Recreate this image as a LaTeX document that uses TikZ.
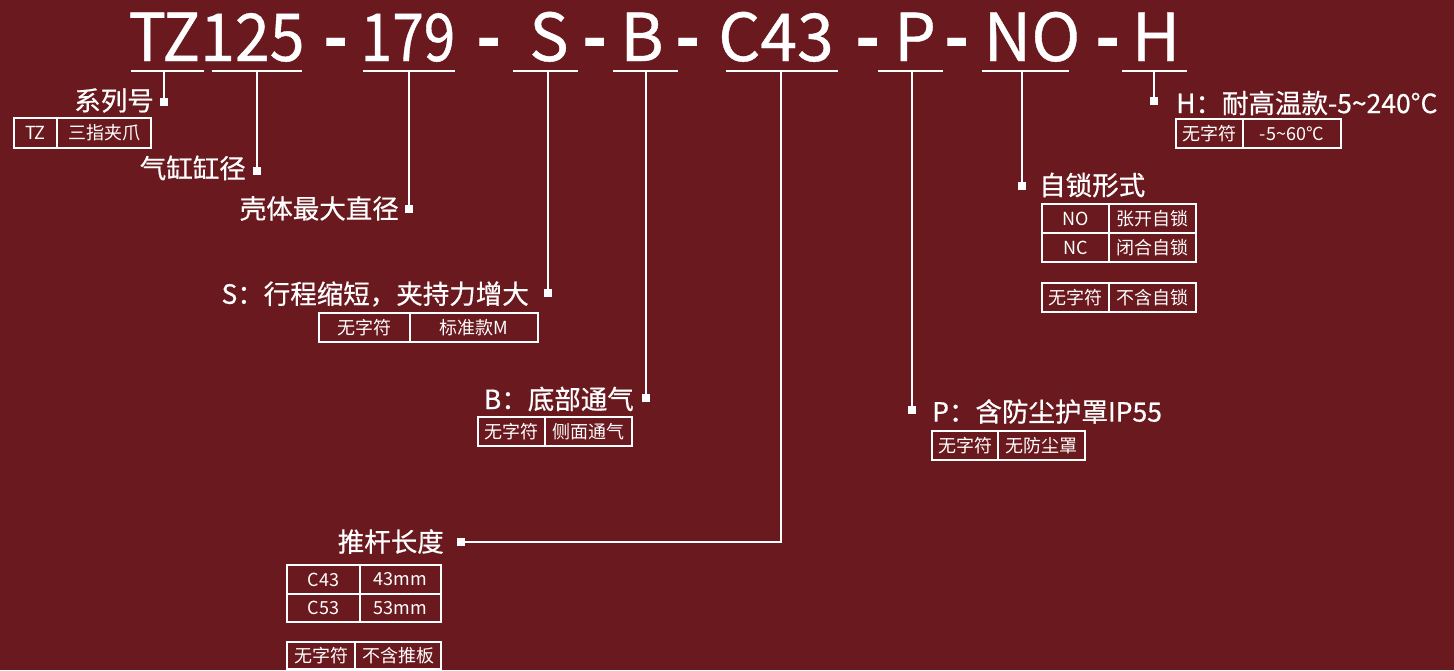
\documentclass[tikz,border=0pt]{standalone}
\usepackage{fontspec}
\setmainfont{Noto Sans CJK SC}
\newfontfamily\medf{Noto Sans CJK SC}[FakeBold=0.6]
\definecolor{bg}{RGB}{106,26,31}
\begin{document}
\begin{tikzpicture}[x=1pt,y=-1pt,
  code/.style={text=white,inner sep=0pt,anchor=base,font=\fontsize{66}{66}\medf},
  dashc/.style={text=white,inner sep=0pt,anchor=base,font=\fontsize{66}{66}\selectfont\bfseries},
  lab/.style={text=white,inner sep=0pt,font=\fontsize{26.5}{26.5}\medf},
  cell/.style={draw=white,line width=1.5pt,inner sep=0pt,text=white,font=\fontsize{18}{18}\selectfont},
  mk/.style={fill=white,minimum size=8pt,inner sep=0pt},
  conn/.style={draw=white,line width=2pt},
  uline/.style={draw=white,line width=2pt}]
\fill[bg] (0,0) rectangle (1454,670);
\useasboundingbox (0,0) rectangle (1454,670);

% code line
\node[code] (cTZ) at (216.5,61) {\scalebox{0.95}[1]{TZ125}};
\node[dashc] (d1) at (336,61) {-};
\node[code] (c179) at (408,61) {\scalebox{0.86}[1]{179}};
\node[dashc] (d2) at (489,61) {-};
\node[code] (cS) at (549,61) {S};
\node[dashc] (d3) at (595,61) {-};
\node[code] (cB) at (642,61) {B};
\node[dashc] (d4) at (688,61) {-};
\node[code] (cC) at (776,61) {C43};
\node[dashc] (d5) at (868,61) {-};
\node[code] (cP) at (915,61) {P};
\node[dashc] (d6) at (957,61) {-};
\node[code] (cNO) at (1032,61) {NO};
\node[dashc] (d7) at (1108,61) {-};
\node[code] (cH) at (1156,61) {H};

% underlines
\draw[uline] (131,71) -- (204,71);
\draw[uline] (212,71) -- (302,71);
\draw[uline] (363,71) -- (455,71);
\draw[uline] (513,71) -- (578,71);
\draw[uline] (613,71) -- (678,71);
\draw[uline] (726,71) -- (838,71);
\draw[uline] (878,71) -- (943,71);
\draw[uline] (982,71) -- (1069,71);
\draw[uline] (1122,71) -- (1187,71);

% connector start points
\coordinate (u1) at (164,71);
\coordinate (u2) at (257,71);
\coordinate (u3) at (409,71);
\coordinate (u4) at (548,71);
\coordinate (u5) at (646,71);
\coordinate (u6) at (781,71);
\coordinate (u7) at (912,71);
\coordinate (u8) at (1022,71);
\coordinate (u9) at (1154,71);

% markers
\node[mk] (m1) at (164,102) {};
\node[mk] (m2) at (257,171) {};
\node[mk] (m3) at (409,209) {};
\node[mk] (m4) at (548,293) {};
\node[mk] (m5) at (646,398) {};
\node[mk] (m6) at (461,542) {};
\node[mk] (m7) at (912,410) {};
\node[mk] (m8) at (1022,186) {};
\node[mk] (m9) at (1154,101) {};

\draw[conn] (u1) -- (m1.center);
\draw[conn] (u2) -- (m2.center);
\draw[conn] (u3) -- (m3.center);
\draw[conn] (u4) -- (m4.center);
\draw[conn] (u5) -- (m5.center);
\draw[conn] (u6) |- (m6.center);
\draw[conn] (u7) -- (m7.center);
\draw[conn] (u8) -- (m8.center);
\draw[conn] (u9) -- (m9.center);

% labels
\node[lab,anchor=east] (l1) at (154,100.5) {系列号};
\node[lab,anchor=east] (l2) at (246,168) {气缸缸径};
\node[lab,anchor=east] (l3) at (399,208.5) {壳体最大直径};
\node[lab,anchor=east] (l4) at (529,294) {S：行程缩短，夹持力增大};
\node[lab,anchor=east] (l5) at (634,399) {B：底部通气};
\node[lab,anchor=east] (l6) at (444,541.5) {推杆长度};
\node[lab,anchor=west] (l7) at (932,411.5) {P：含防尘护罩IP55};
\node[lab,anchor=west] (l8) at (1039,185) {自锁形式};
\node[lab,anchor=west] (l9) at (1176,103) {H：耐高温款-5\textasciitilde240°C};

% tables
\node[cell,minimum width=43pt,minimum height=30pt] (t1a) at (35.5,133) {TZ};
\node[cell,minimum width=94pt,minimum height=30pt] (t1b) at (104,133) {三指夹爪};

\node[cell,minimum width=91pt,minimum height=29pt] (tSa) at (364.5,327.5) {无字符};
\node[cell,minimum width=128pt,minimum height=29pt] (tSb) at (474,327.5) {标准款M};

\node[cell,minimum width=67pt,minimum height=29pt] (tBa) at (511.5,431.5) {无字符};
\node[cell,minimum width=87pt,minimum height=29pt] (tBb) at (588.5,431.5) {侧面通气};

\node[cell,minimum width=66pt,minimum height=29pt] (tPa) at (965,445.5) {无字符};
\node[cell,minimum width=87pt,minimum height=29pt] (tPb) at (1041.5,445.5) {无防尘罩};

\node[cell,minimum width=67pt,minimum height=29pt] (tHa) at (1209.5,133.5) {无字符};
\node[cell,minimum width=98pt,minimum height=29pt] (tHb) at (1292,133.5) {-5\textasciitilde60°C};

\node[cell,minimum width=67pt,minimum height=29pt] (tNa) at (1075.5,218.5) {NO};
\node[cell,minimum width=87pt,minimum height=29pt] (tNb) at (1152.5,218.5) {张开自锁};
\node[cell,minimum width=67pt,minimum height=29pt] (tNc) at (1075.5,247.5) {NC};
\node[cell,minimum width=87pt,minimum height=29pt] (tNd) at (1152.5,247.5) {闭合自锁};

\node[cell,minimum width=67pt,minimum height=29pt] (tOa) at (1075.5,297.5) {无字符};
\node[cell,minimum width=87pt,minimum height=29pt] (tOb) at (1152.5,297.5) {不含自锁};

\node[cell,minimum width=73pt,minimum height=29pt] (tCa) at (323.5,579.5) {C43};
\node[cell,minimum width=81pt,minimum height=29pt] (tCb) at (400.5,579.5) {43mm};
\node[cell,minimum width=73pt,minimum height=28pt] (tCc) at (323.5,608) {C53};
\node[cell,minimum width=81pt,minimum height=28pt] (tCd) at (400.5,608) {53mm};

\node[cell,minimum width=68pt,minimum height=27pt] (tDa) at (321,655.5) {无字符};
\node[cell,minimum width=86pt,minimum height=27pt] (tDb) at (398,655.5) {不含推板};
\end{tikzpicture}
\end{document}
